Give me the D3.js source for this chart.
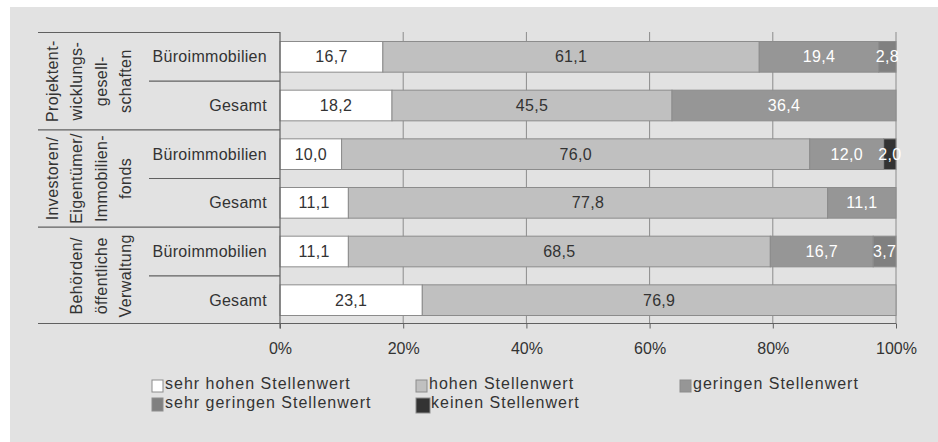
<!DOCTYPE html>
<html>
<head>
<meta charset="utf-8">
<script src="https://cdn.jsdelivr.net/npm/d3@7/dist/d3.min.js"></script>
<style>
  html, body { margin: 0; padding: 0; background: #ffffff; }
  svg { display: block; }
  text { font-family: "Liberation Sans", Arial, sans-serif; }
</style>
</head>
<body>
<svg id="chart" width="938" height="442"></svg>
<script>
// ---- data ----
const groups = [
  ["Projektent-", "wicklungs-", "gesell-", "schaften"],
  ["Investoren/", "Eigentümer/", "Immobilien-", "fonds"],
  ["Behörden/", "öffentliche", "Verwaltung"]
];
const subCategories = ["Büroimmobilien", "Gesamt", "Büroimmobilien", "Gesamt", "Büroimmobilien", "Gesamt"];
const seriesNames = ["sehr hohen Stellenwert", "hohen Stellenwert", "geringen Stellenwert", "sehr geringen Stellenwert", "keinen Stellenwert"];
const sehrHoch   = [16.7, 18.2, 10.0, 11.1, 11.1, 23.1];
const hoch       = [61.1, 45.5, 76.0, 77.8, 68.5, 76.9];
const gering     = [19.4, 36.4, 12.0, 11.1, 16.7, 0];
const sehrGering = [2.8, 0, 0, 0, 3.7, 0];
const keinen     = [0, 0, 2.0, 0, 0, 0];
const tickValues = [0, 0.2, 0.4, 0.6, 0.8, 1.0];

// ---- styles ----
const colors = ["#ffffff", "#c0c0c0", "#969696", "#808080", "#333333"];
const labelColors = ["#333333", "#333333", "#ffffff", "#ffffff", "#ffffff"];
const seriesValues = [sehrHoch, hoch, gering, sehrGering, keinen];

const rows = subCategories.map((s, i) => {
  const o = { idx: i };
  seriesNames.forEach((n, k) => { o[n] = seriesValues[k][i]; });
  return o;
});

const svg = d3.select("#chart");
svg.append("rect").attr("x", 10).attr("y", 7).attr("width", 928).attr("height", 435).attr("fill", "#e2e2e2");

const x = d3.scaleLinear().domain([0, 1]).range([280, 896]);
const y = d3.scaleBand().domain(d3.range(rows.length)).range([32.5, 324.5]).paddingInner(0.37).paddingOuter(0.185);

// gridlines
svg.append("g").selectAll("line").data(tickValues.slice(1)).join("line")
  .attr("x1", d => x(d)).attr("x2", d => x(d))
  .attr("y1", 32).attr("y2", 323.5)
  .attr("stroke", "#8c8c8c").attr("stroke-width", 1);

// stacked bars
const stack = d3.stack().keys(seriesNames).offset(d3.stackOffsetExpand);
const stacked = stack(rows);

const layer = svg.append("g").selectAll("g").data(stacked).join("g")
  .attr("fill", (d, i) => colors[i]);
layer.selectAll("rect").data(d => d.filter(p => p[1] - p[0] > 0)).join("rect")
  .attr("x", p => x(p[0]))
  .attr("width", p => x(p[1]) - x(p[0]))
  .attr("y", p => y(p.data.idx))
  .attr("height", y.bandwidth())
  .attr("stroke", "#8c8c8c").attr("stroke-width", 1);

// value labels
const lbl = svg.append("g").selectAll("g").data(stacked).join("g")
  .attr("fill", (d, i) => labelColors[i]);
lbl.selectAll("text").data(d => d.filter(p => p[1] - p[0] > 0).map(p => ({ p, key: d.key }))).join("text")
  .attr("x", d => (x(d.p[0]) + x(d.p[1])) / 2)
  .attr("y", d => y(d.p.data.idx) + y.bandwidth() / 2)
  .attr("dy", "0.35em")
  .attr("text-anchor", "middle")
  .attr("font-size", 16)
  .attr("letter-spacing", 0.3)
  .text(d => d3.format(".1f")(d.p.data[d.key]).replace(".", ","));

// x axis
const axis = d3.axisBottom(x).tickValues(tickValues).tickFormat(d3.format(".0%")).tickSize(5).tickPadding(14);
const ax = svg.append("g").attr("transform", "translate(0,323.5)").call(axis);
ax.select(".domain").remove();
ax.selectAll(".tick line").attr("stroke", "#606060");
ax.selectAll(".tick text").attr("font-size", 16).attr("fill", "#333333")
  .attr("font-family", "Liberation Sans, Arial, sans-serif");

// axis lines and category separators
const sep = svg.append("g").attr("stroke", "#606060").attr("stroke-width", 1.2);
sep.append("line").attr("x1", 38).attr("x2", 896).attr("y1", 323.5).attr("y2", 323.5);
sep.append("line").attr("x1", 280).attr("x2", 280).attr("y1", 32).attr("y2", 328.5);
const step = y.step();
const y0 = 32.5;
// group boundaries
sep.selectAll(".g").data([0, 2, 4]).join("line")
  .attr("x1", 38).attr("x2", 280)
  .attr("y1", d => y0 + d * step).attr("y2", d => y0 + d * step);
// inner boundaries
sep.selectAll(".s").data([1, 3, 5]).join("line")
  .attr("x1", 149).attr("x2", 280)
  .attr("y1", d => y0 + d * step).attr("y2", d => y0 + d * step);

// sub category labels
svg.append("g").selectAll("text").data(subCategories).join("text")
  .attr("x", 267)
  .attr("y", (d, i) => y(i) + y.bandwidth() / 2)
  .attr("dy", "0.35em")
  .attr("text-anchor", "end")
  .attr("font-size", 16)
  .attr("letter-spacing", 0.3)
  .attr("fill", "#333333")
  .text(d => d);

// group labels (rotated)
const lineGap = 24.3;
const lastLineX = 125.3;
groups.forEach((lines, gi) => {
  const cy = y0 + (gi * 2 + 1) * step;
  lines.forEach((t, li) => {
    const cx = lastLineX - (lines.length - 1 - li) * lineGap;
    svg.append("text")
      .attr("transform", `translate(${cx},${cy}) rotate(-90)`)
      .attr("dy", "0.35em")
      .attr("text-anchor", "middle")
      .attr("font-size", 16)
      .attr("letter-spacing", 0.4)
      .attr("fill", "#333333")
      .text(t);
  });
});

// legend
const legendPos = [
  { x: 152, y: 380, w: 11, h: 12 },
  { x: 416, y: 380, w: 11, h: 12 },
  { x: 680, y: 380, w: 11, h: 12 },
  { x: 152, y: 398, w: 11, h: 13 },
  { x: 416, y: 398, w: 14, h: 15 }
];
const leg = svg.append("g").selectAll("g").data(seriesNames).join("g");
leg.append("rect")
  .attr("x", (d, i) => legendPos[i].x)
  .attr("y", (d, i) => legendPos[i].y)
  .attr("width", (d, i) => legendPos[i].w)
  .attr("height", (d, i) => legendPos[i].h)
  .attr("fill", (d, i) => colors[i])
  .attr("stroke", "#8c8c8c").attr("stroke-width", 1);
leg.append("text")
  .attr("x", (d, i) => legendPos[i].x + (i === 4 ? 15 : 13))
  .attr("y", (d, i) => i < 3 ? 389 : 408)
  .attr("font-size", 16)
  .attr("letter-spacing", 1)
  .attr("fill", "#333333")
  .text(d => d);
</script>
</body>
</html>
